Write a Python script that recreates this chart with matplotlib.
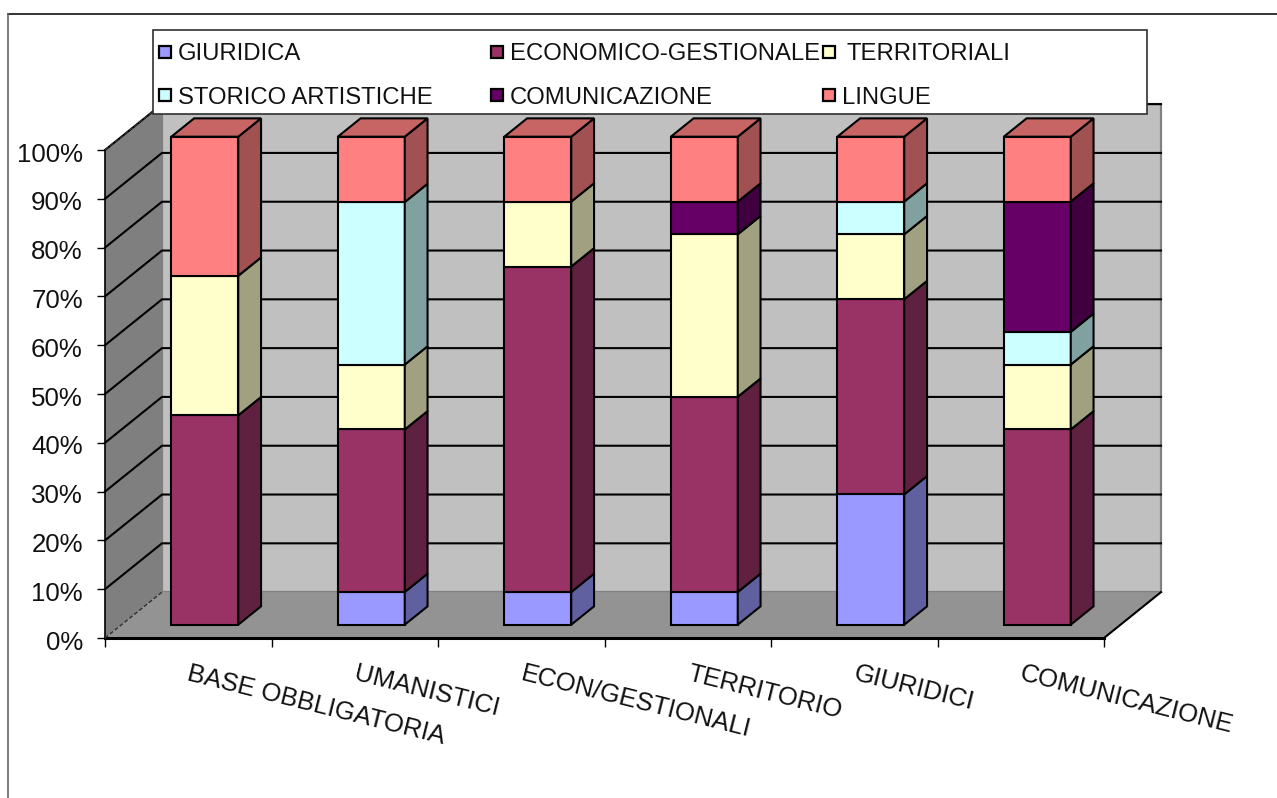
import matplotlib
matplotlib.use("Agg")
import matplotlib.pyplot as plt
from matplotlib.lines import Line2D
from matplotlib.patches import Polygon, Rectangle
from matplotlib.transforms import ScaledTranslation

plt.rcParams['font.family'] = ['Liberation Sans', 'DejaVu Sans']

W, H = 1277, 798

categories = ["BASE OBBLIGATORIA", "UMANISTICI", "ECON/GESTIONALI",
              "TERRITORIO", "GIURIDICI", "COMUNICAZIONE"]
series_names = ["GIURIDICA", "ECONOMICO-GESTIONALE", "TERRITORIALI",
                "STORICO ARTISTICHE", "COMUNICAZIONE", "LINGUE"]
giuridica = [0, 6.7, 6.7, 6.7, 26.7, 0]
economico = [42.9, 33.3, 66.7, 40, 40, 40]
territoriali = [28.6, 13.3, 13.3, 33.3, 13.3, 13.3]
storico = [0, 33.3, 0, 0, 6.7, 6.7]
comunicazione = [0, 0, 0, 6.7, 0, 26.7]
lingue = [28.5, 13.4, 13.3, 13.3, 13.3, 13.3]
series = [giuridica, economico, territoriali, storico, comunicazione, lingue]
colors = ['#9999FF', '#993366', '#FFFFCC', '#CCFFFF', '#660066', '#FF8080']
y_ticks = list(range(0, 101, 10))

# depth of the fake 3d box, in data units
DX = 57 / 166.5
DY = 9.4
BAR_W = 0.402
BAR_D0 = 0.29
BAR_D1 = 0.69


def shade(col, f):
    rgb = matplotlib.colors.to_rgb(col)
    return tuple(c * f for c in rgb)


def pt(x, y, d=0.0):
    return (x + d * DX, y + d * DY)


def px(x, y):
    return (x / W, 1 - y / H)


fig = plt.figure(figsize=(W / 100, H / 100), dpi=100, facecolor='white')
ax = fig.add_axes([105 / W, 1 - 638 / H, 999 / W, 488 / H])
ax.set_xlim(0, len(categories))
ax.set_ylim(0, 100)
ax.patch.set_visible(False)

n = len(categories)
# walls and floor
ax.add_patch(Polygon([pt(0, 0, 1), pt(n, 0, 1), pt(n, 100, 1), pt(0, 100, 1)], closed=True,
                     fc='#C0C0C0', ec='#808080', lw=1.6, clip_on=False, zorder=1))
ax.add_patch(Polygon([pt(0, 0), pt(0, 100), pt(0, 100, 1), pt(0, 0, 1)], closed=True,
                     fc='#7F7F7F', ec='none', clip_on=False, zorder=1))
ax.add_patch(Polygon([pt(0, 0), pt(n, 0), pt(n, 0, 1), pt(0, 0, 1)], closed=True,
                     fc='#939393', ec='none', clip_on=False, zorder=1))

for v in y_ticks[1:]:
    xs, ys = zip(pt(0, v), pt(0, v, 1), pt(n, v, 1))
    ax.plot(xs, ys, color='black', lw=1.5, clip_on=False, zorder=2, solid_joinstyle='miter')

# dashed edges and floor front right edge
for v in (0, 100):
    xs, ys = zip(pt(0, v), pt(0, v, 1))
    ax.plot(xs, ys, color='#303030', lw=1, ls=(0, (3, 1.5)), clip_on=False, zorder=3)
xs, ys = zip(pt(n, 0), pt(n, 0, 1))
ax.plot(xs, ys, color='black', lw=1.5, clip_on=False, zorder=3)

# stacked bars
for i in range(n):
    x0 = i + 0.5 - BAR_W / 2
    x1 = i + 0.5 + BAR_W / 2
    bottom = 0
    for s, col in zip(series, colors):
        v = s[i]
        if v == 0:
            continue
        top = bottom + v
        ax.add_patch(Polygon([pt(x0, bottom, BAR_D0), pt(x1, bottom, BAR_D0),
                              pt(x1, top, BAR_D0), pt(x0, top, BAR_D0)], closed=True,
                             fc=col, ec='black', lw=1.5, clip_on=False, zorder=4))
        ax.add_patch(Polygon([pt(x1, bottom, BAR_D0), pt(x1, bottom, BAR_D1),
                              pt(x1, top, BAR_D1), pt(x1, top, BAR_D0)], closed=True,
                             fc=shade(col, 0.63), ec='black', lw=1.5, clip_on=False, zorder=4))
        bottom = top
        last = col
    ax.add_patch(Polygon([pt(x0, bottom, BAR_D0), pt(x1, bottom, BAR_D0),
                          pt(x1, bottom, BAR_D1), pt(x0, bottom, BAR_D1)], closed=True,
                         fc=shade(last, 0.78), ec='black', lw=1.5, clip_on=False, zorder=4))

# axes, ticks, labels
for side in ('top', 'right'):
    ax.spines[side].set_visible(False)
ax.spines['left'].set_linewidth(1.2)
ax.spines['bottom'].set_linewidth(2.2)
ax.set_yticks(y_ticks)
ax.set_yticklabels(["%d%%" % v for v in y_ticks], fontsize=18.6, color='#111111')
ax.set_xticks(range(n + 1))
ax.set_xticklabels([])
ax.tick_params(axis='y', length=6, width=1, pad=10)
ax.tick_params(axis='x', length=6.5, width=1)
# excel sits its labels a touch below the tick
shift = ScaledTranslation(0, -1.5 / 72, fig.dpi_scale_trans)
for lab in ax.get_yticklabels():
    lab.set_transform(lab.get_transform() + shift)

for i, name in enumerate(categories):
    ax.annotate(name, xy=(i + 0.5, 0), xycoords=('data', 'axes fraction'),
                xytext=(2, -17), textcoords='offset points', rotation=-14,
                rotation_mode='anchor', ha='left', va='top', fontsize=18.5, color='#111111')

# legend box, excel spacing is uneven so it is placed by hand
x, y = px(153, 114)
fig.add_artist(Rectangle((x, y), 994 / W, 84 / H, transform=fig.transFigure, fc='white',
                         ec='#303030', lw=1.2, zorder=5))
leg_x = [165, 165, 497, 497, 829, 829]
leg_y = [52, 95, 52, 95, 52, 95]
leg_text_x = [178, 178, 510, 510, 847, 842]
leg_order = [0, 3, 1, 4, 2, 5]
for k, idx in enumerate(leg_order):
    lx, ly = px(leg_x[k] - 6, leg_y[k] + 6)
    fig.add_artist(Rectangle((lx, ly), 12 / W, 12 / H, transform=fig.transFigure,
                             fc=colors[idx], ec='black', lw=1.6, zorder=6))
    tx, ty = px(leg_text_x[k], leg_y[k])
    fig.text(tx, ty, series_names[idx], fontsize=17.2, ha='left', va='center_baseline',
             color='#111111', zorder=6)

# outer frame of the pasted chart
fx0, fy0 = px(8, 14)
fig.add_artist(Line2D([fx0, 1], [fy0, fy0], color='#111111', lw=1.2, zorder=5))
fig.add_artist(Line2D([fx0, fx0], [0, fy0], color='#666666', lw=1.2, zorder=5))

fig.savefig("out.png", dpi=100)
